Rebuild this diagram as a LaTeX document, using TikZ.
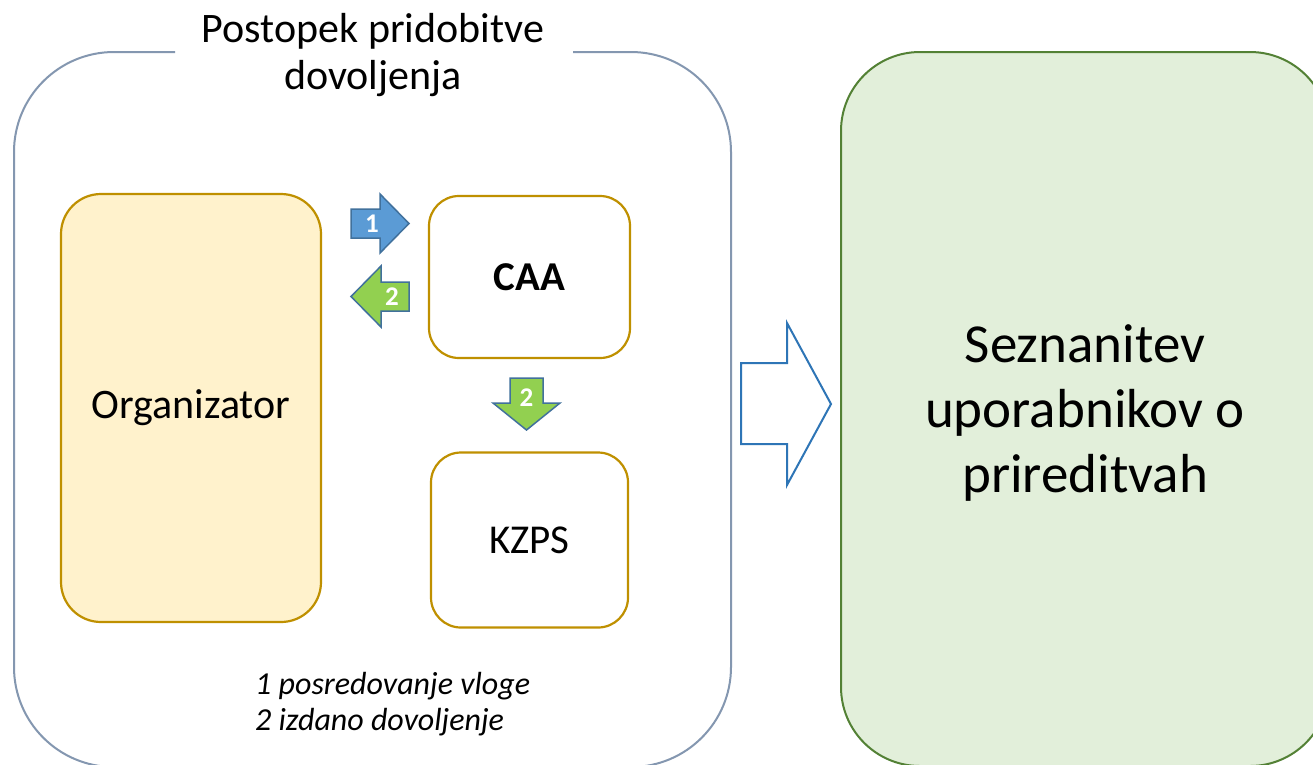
\documentclass[tikz,border=0pt]{standalone}
\usepackage{fontspec}
\setmainfont{Carlito}
\definecolor{outerc}{HTML}{8497B0}
\definecolor{goldc}{HTML}{BF9000}
\definecolor{goldfill}{HTML}{FFF2CC}
\definecolor{greenc}{HTML}{538135}
\definecolor{greenfill}{HTML}{E2EFDA}
\definecolor{bluefill}{HTML}{5B9BD5}
\definecolor{arrowedge}{HTML}{41719C}
\definecolor{limefill}{HTML}{92D050}
\definecolor{bigarrow}{HTML}{2E75B6}
\begin{document}
\begin{tikzpicture}[x=1pt,y=-1pt,
  goldbox/.style={draw=goldc, line width=2.2pt, rounded corners=#1, inner sep=0pt},
  blockarrow/.style={draw=arrowedge, line width=1.5pt, line join=miter},
  numlabel/.style={text=white, font=\fontsize{27}{29}\selectfont\bfseries, inner sep=0pt},
  bigtext/.style={font=\fontsize{41}{48}\selectfont, inner sep=0pt}
]
\useasboundingbox (0,0) rectangle (1313,764);
\clip (0,0) rectangle (1313,764);
\fill[white] (0,0) rectangle (1313,764);

% outer process frame with gap for title
\draw[outerc, line width=2pt, rounded corners=100pt]
  (573,52) -- (731,52) -- (731,767) -- (14,767) -- (14,52) -- (175,52);
\node[align=center, font=\fontsize{42}{47}\selectfont, inner sep=0pt] (title) at (373,55)
  {Postopek pridobitve\\dovoljenja};

% green result box
\node[draw=greenc, fill=greenfill, line width=2pt, rounded corners=79pt,
  minimum width=488pt, minimum height=714pt, inner sep=0pt] (green) at (1085,409) {};
\node[align=center, font=\fontsize{55}{65}\selectfont, inner sep=0pt] (greentext) at (1085,413)
  {Seznanitev\\uporabnikov o\\prireditvah};

% inner boxes
\node[goldbox=40pt, fill=goldfill, minimum width=260pt, minimum height=428pt,
  bigtext, font=\fontsize{42}{48}\selectfont] (org) at (191,408) {Organizator};
\node[goldbox=30pt, fill=white, minimum width=201pt, minimum height=162pt,
  bigtext, font=\fontsize{41}{48}\selectfont\bfseries] (caa) at (529.5,277) {CAA};
\node[goldbox=30pt, fill=white, minimum width=197pt, minimum height=175pt,
  bigtext] (kzps) at (529.5,540) {KZPS};

% block arrows
\draw[blockarrow, fill=bluefill] (351,209) -- (380,209) -- (380,194) -- (409,223.5)
  -- (380,253) -- (380,238) -- (351,238) -- cycle;
\node[numlabel] (n1) at (372,224) {1};
\draw[blockarrow, fill=limefill] (409,282) -- (381,282) -- (381,266) -- (351,296.5)
  -- (381,327) -- (381,311) -- (409,311) -- cycle;
\node[numlabel] (n2) at (392,297) {2};
\draw[blockarrow, fill=limefill] (510,378) -- (543,378) -- (543,403) -- (560,403)
  -- (526.5,430) -- (493,403) -- (510,403) -- cycle;
\node[numlabel] (n3) at (526.5,398) {2};

% big arrow
\draw[draw=bigarrow, line width=2pt, fill=white, line join=miter]
  (741,363) -- (787,363) -- (787,323) -- (831,404) -- (787,485) -- (787,444) -- (741,444) -- cycle;

% legend
\node[anchor=west, align=left, font=\fontsize{32}{36}\selectfont\itshape, inner sep=0pt]
  (legend) at (255,704) {1 posredovanje vloge\\2 izdano dovoljenje};
\end{tikzpicture}
\end{document}
